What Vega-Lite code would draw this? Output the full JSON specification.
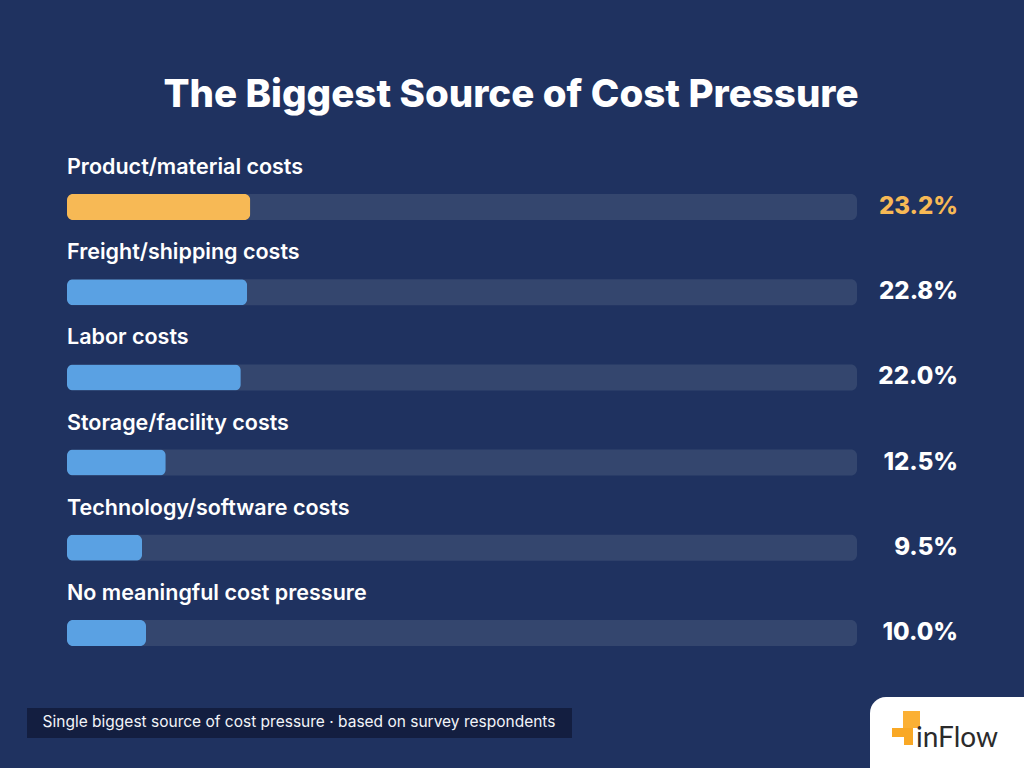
{
  "$schema": "https://vega.github.io/schema/vega-lite/v6.json",
  "width": 1024,
  "height": 768,
  "autosize": {"type": "fit", "contains": "padding"},
  "padding": 0,
  "background": "#1f3260",
  "config": {"view": {"stroke": null}, "font": "Inter"},
  "layer": [
    {
      "data": {
        "values": [
          {"category": "Product/material costs", "value": 23.2},
          {"category": "Freight/shipping costs", "value": 22.8},
          {"category": "Labor costs", "value": 22.0},
          {"category": "Storage/facility costs", "value": 12.5},
          {"category": "Technology/software costs", "value": 9.5},
          {"category": "No meaningful cost pressure", "value": 10.0}
        ]
      },
      "transform": [{"calculate": "format(datum.value, '.1f') + '%'", "as": "label"}],
      "encoding": {
        "y": {
          "field": "category",
          "type": "nominal",
          "sort": null,
          "scale": {"type": "point", "range": [207, 633], "padding": 0},
          "axis": null
        }
      },
      "layer": [
        {
          "mark": {"type": "bar", "height": 26, "cornerRadius": 6, "color": "#34466e"},
          "encoding": {
            "x": {"datum": 100, "type": "quantitative", "scale": {"domain": [0, 100], "range": [67, 857]}, "axis": null}
          }
        },
        {
          "mark": {"type": "bar", "height": 26, "cornerRadius": 6},
          "encoding": {
            "x": {"field": "value", "type": "quantitative"},
            "color": {
              "condition": {"test": "datum.category === 'Product/material costs'", "value": "#f7b955"},
              "value": "#5aa1e3"
            }
          }
        },
        {
          "mark": {"type": "text", "align": "left", "baseline": "middle", "dy": -39, "fontSize": 21.5, "fontWeight": 600, "color": "#ffffff"},
          "encoding": {
            "x": {"value": 67},
            "text": {"field": "category"}
          }
        },
        {
          "mark": {"type": "text", "align": "right", "baseline": "middle", "fontSize": 24, "fontWeight": 800},
          "encoding": {
            "x": {"value": 958},
            "text": {"field": "label"},
            "color": {
              "condition": {"test": "datum.category === 'Product/material costs'", "value": "#f7b955"},
              "value": "#ffffff"
            }
          }
        }
      ]
    },
    {
      "data": {"values": [{"title": "The Biggest Source of Cost Pressure"}]},
      "mark": {"type": "text", "align": "center", "baseline": "middle", "fontSize": 38.5, "fontWeight": 800, "color": "#ffffff"},
      "encoding": {"x": {"value": 511}, "y": {"value": 95}, "text": {"field": "title"}}
    },
    {
      "data": {"values": [{"note": "Single biggest source of cost pressure · based on survey respondents"}]},
      "layer": [
        {
          "mark": {"type": "rect", "color": "#131e40"},
          "encoding": {"x": {"value": 27}, "x2": {"value": 572}, "y": {"value": 708}, "y2": {"value": 738}}
        },
        {
          "mark": {"type": "text", "align": "center", "baseline": "middle", "fontSize": 15.5, "fontWeight": 400, "color": "#f2f4f8"},
          "encoding": {"x": {"value": 299}, "y": {"value": 722}, "text": {"field": "note"}}
        }
      ]
    },
    {
      "data": {"values": [{"brand": "inFlow"}]},
      "layer": [
        {
          "mark": {"type": "rect", "color": "#ffffff", "cornerRadiusTopLeft": 16},
          "encoding": {"x": {"value": 870}, "x2": {"value": 1030}, "y": {"value": 697}, "y2": {"value": 775}}
        },
        {
          "mark": {"type": "rect", "color": "#fbb034"},
          "encoding": {"x": {"value": 903}, "x2": {"value": 920}, "y": {"value": 711}, "y2": {"value": 728}}
        },
        {
          "mark": {"type": "rect", "color": "#f9a825"},
          "encoding": {"x": {"value": 892}, "x2": {"value": 913}, "y": {"value": 728}, "y2": {"value": 737}}
        },
        {
          "mark": {"type": "rect", "color": "#f9a825"},
          "encoding": {"x": {"value": 904}, "x2": {"value": 913}, "y": {"value": 733}, "y2": {"value": 745}}
        },
        {
          "mark": {"type": "text", "align": "left", "baseline": "alphabetic", "fontSize": 28, "fontWeight": 400, "color": "#2b2b2b", "font": "Lato"},
          "encoding": {"x": {"value": 916}, "y": {"value": 747}, "text": {"field": "brand"}}
        }
      ]
    }
  ]
}
